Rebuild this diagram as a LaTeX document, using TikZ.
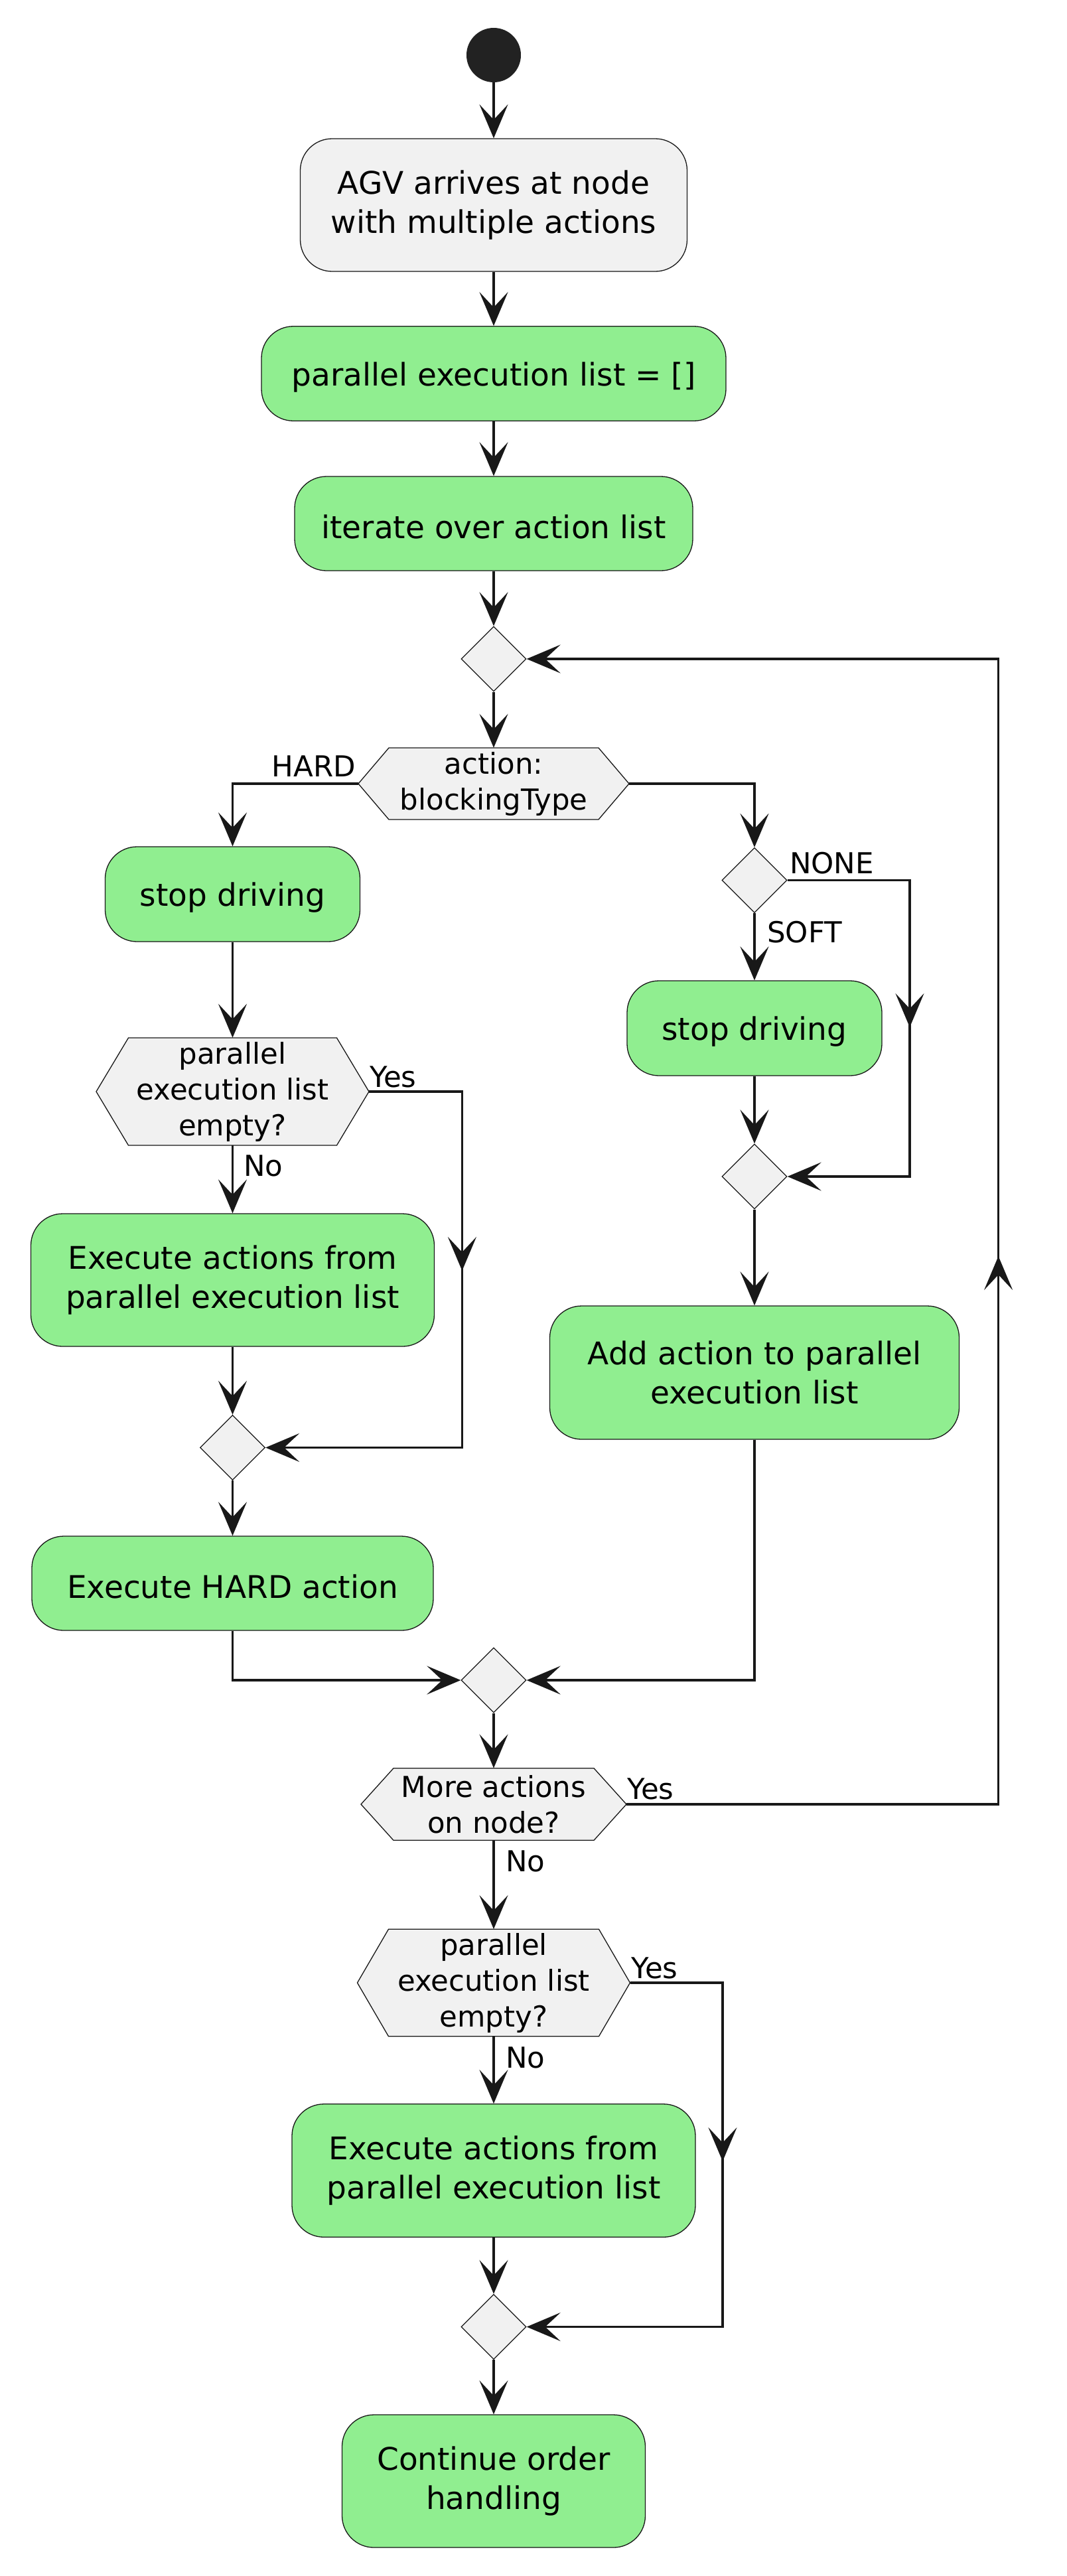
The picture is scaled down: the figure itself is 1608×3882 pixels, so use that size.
\documentclass[tikz,border=0pt]{standalone}
\usepackage{fontspec}
\setmainfont{DejaVu Sans}
\usetikzlibrary{arrows.meta,shapes.geometric}
\definecolor{actgreen}{HTML}{90EE90}
\definecolor{nodegray}{HTML}{F1F1F1}
\definecolor{ink}{HTML}{181818}
\definecolor{startfill}{HTML}{222222}
\pgfdeclarelayer{background}
\pgfsetlayers{background,main}
\newcommand\puhex[7]{%
  \node[hexbox, minimum width={2*#4*1pt}, minimum height={2*#6*1pt}] (#1) at (#2,#3) {#7};
  \coordinate (#1w) at ({#2-#5},#3);
  \coordinate (#1e) at ({#2+#5},#3);
  \begin{pgfonlayer}{background}
  \draw[hexshape] (#1w) -- ({#2-#4},{#3-#6}) -- ({#2+#4},{#3-#6}) -- (#1e) -- ({#2+#4},{#3+#6}) -- ({#2-#4},{#3+#6}) -- cycle;
  \end{pgfonlayer}%
}
\begin{document}
\begin{tikzpicture}[x=1pt,y=-1pt,
  act/.style={draw=ink, line width=1.3pt, fill=actgreen, rounded corners=48pt, inner sep=0pt, align=center, font=\fontsize{47pt}{58.7pt}\selectfont, execute at begin node={\rule{0pt}{46pt}}},
  actgray/.style={act, fill=nodegray},
  diam/.style={diamond, draw=ink, line width=1.3pt, fill=nodegray, minimum width=98pt, minimum height=98pt, inner sep=0pt},
  hexbox/.style={inner sep=0pt, align=center, font=\fontsize{43.5pt}{54pt}\selectfont, execute at begin node={\rule{0pt}{44pt}}},
  hexshape/.style={draw=ink, line width=1.3pt, fill=nodegray, line join=miter},
  conn/.style={draw=ink, line width=3.2pt},
  arr/.style={conn, -{Stealth[length=51pt, width=43pt, inset=23pt]}},
  lbl/.style={inner sep=0pt, font=\fontsize{43.5pt}{54pt}\selectfont},
]
\useasboundingbox (0,0) rectangle (1608,3882);
\begin{pgfonlayer}{background}
\fill[white] (0,0) rectangle (1608,3882);
\end{pgfonlayer}

% nodes
\node[circle, fill=startfill, minimum size=82pt, inner sep=0pt] (start) at (744,83) {};
\node[actgray, minimum width=583pt, minimum height=200pt] (B1) at (744,309) {AGV arrives at node\\with multiple actions};
\node[act, minimum width=700pt, minimum height=142.5pt] (B2) at (744,563) {parallel execution list = []};
\node[act, minimum width=600pt, minimum height=142pt] (B3) at (744,789) {iterate over action list};
\node[diam] (D1) at (744,993) {};
\puhex{H1}{744}{1181}{158}{204}{54}{action:\\blockingType}
\node[act, minimum width=384pt, minimum height=143pt] (L1) at (350.5,1347.5) {stop driving};
\node[diam] (D2) at (1137,1326.5) {};
\node[act, minimum width=384pt, minimum height=143pt] (R1) at (1137,1549.5) {stop driving};
\node[diam] (D3) at (1137,1773) {};
\node[act, minimum width=617pt, minimum height=201pt] (R2) at (1137,2068.5) {Add action to parallel\\execution list};
\puhex{H2}{350.5}{1645}{157}{205.5}{81}{parallel\\execution list\\empty?}
\node[act, minimum width=608pt, minimum height=200pt] (L2) at (350.5,1929) {Execute actions from\\parallel execution list};
\node[diam] (D4) at (350.5,2181.5) {};
\node[act, minimum width=605pt, minimum height=142pt] (L3) at (350.5,2386) {Execute HARD action};
\node[diam] (D5) at (744,2532) {};
\puhex{H3}{744}{2719}{151}{200}{54.3}{More actions\\on node?}
\puhex{H4}{744}{2988}{158.5}{205.5}{80.75}{parallel\\execution list\\empty?}
\node[act, minimum width=608pt, minimum height=200.5pt] (B4) at (744,3271) {Execute actions from\\parallel execution list};
\node[diam] (D6) at (744,3506.5) {};
\node[act, minimum width=457pt, minimum height=200pt] (B5) at (744,3739) {Continue order\\handling};

% corner coordinates
\coordinate (cN1) at (1371,1326.5);
\coordinate (cN2) at (1371,1773);
\coordinate (tipN) at (1371,1548);
\coordinate (cP1) at (696.4,1645);
\coordinate (cP2) at (696.4,2181.5);
\coordinate (tipP) at (696.4,1915);
\coordinate (cY1) at (1504.6,2719);
\coordinate (cY2) at (1504.6,993);
\coordinate (tipY) at (1504.6,1893);
\coordinate (cQ1) at (1089,2988);
\coordinate (cQ2) at (1089,3506.5);
\coordinate (tipQ) at (1089,3257);

% connectors
\draw[arr] (start) -- (B1);
\draw[arr] (B1) -- (B2);
\draw[arr] (B2) -- (B3);
\draw[arr] (B3) -- (D1);
\draw[arr] (D1) -- (H1);
\draw[arr] (H1w) -| (L1.north);
\draw[arr] (H1e) -| (D2.north);
\draw[arr] (D2) -- (R1);
\draw[arr] (D2.east) -- (cN1) -- (cN2) -- (D3.east);
\draw[arr] (cN1) -- (tipN);
\draw[arr] (R1) -- (D3);
\draw[arr] (D3) -- (R2);
\draw[arr] (L1) -- (H2);
\draw[arr] (H2) -- (L2);
\draw[arr] (H2e) -- (cP1) -- (cP2) -- (D4.east);
\draw[arr] (cP1) -- (tipP);
\draw[arr] (L2) -- (D4);
\draw[arr] (D4) -- (L3);
\draw[arr] (L3.south) |- (D5.west);
\draw[arr] (R2.south) |- (D5.east);
\draw[arr] (D5) -- (H3);
\draw[arr] (H3e) -- (cY1) -- (cY2) -- (D1.east);
\draw[arr] (cY1) -- (tipY);
\draw[arr] (H3) -- (H4);
\draw[arr] (H4e) -- (cQ1) -- (cQ2) -- (D6.east);
\draw[arr] (cQ1) -- (tipQ);
\draw[arr] (H4) -- (B4);
\draw[arr] (B4) -- (D6);
\draw[arr] (D6) -- (B5);

% labels
\node[lbl, anchor=base east] (tHard) at (536,1170.7) {HARD};
\node[lbl, anchor=base west] (tNone) at (1190,1316.7) {NONE};
\node[lbl, anchor=base west] (tSoft) at (1156,1420.7) {SOFT};
\node[lbl, anchor=base west] (tYes1) at (557,1638) {Yes};
\node[lbl, anchor=base west] (tNo1) at (367,1772) {No};
\node[lbl, anchor=base west] (tYes2) at (945,2711) {Yes};
\node[lbl, anchor=base west] (tNo2) at (762,2820) {No};
\node[lbl, anchor=base west] (tYes3) at (951,2981) {Yes};
\node[lbl, anchor=base west] (tNo3) at (762,3116) {No};
\end{tikzpicture}
\end{document}
